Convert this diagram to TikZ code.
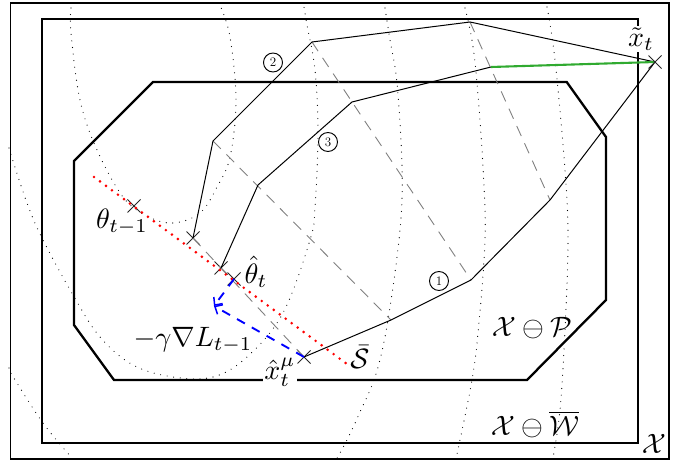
\documentclass[tikz,border=0pt]{standalone}
\usepackage{amsmath}
\usepackage{amssymb}
\usetikzlibrary{shapes.misc,arrows.meta}
\definecolor{gline}{RGB}{48,170,48}
\tikzset{
  frame/.style={draw=black,line width=1.9pt},
  feas/.style={draw=black,line width=2.3pt,line join=miter},
  contour/.style={draw=black,line width=1.15pt,line cap=round,dash pattern=on 0pt off 6.6pt},
  traj/.style={draw=black,line width=1pt},
  proj/.style={draw=black!50,line width=0.9pt,dash pattern=on 11pt off 8pt},
  xmark/.style={cross out,draw=black!85,line width=0.9pt,minimum size=13pt,inner sep=0pt,outer sep=0pt},
  redline/.style={draw=red,line width=2.9pt,line cap=round,dash pattern=on 0pt off 7.45pt},
  blueline/.style={draw=blue,line width=1.9pt,dash pattern=on 9pt off 8pt,-{Straight Barb[length=6pt,width=11pt,line width=1.5pt]}},
  greenline/.style={draw=gline,line width=2.1pt},
  lab/.style={scale=2.8,inner sep=0pt,outer sep=0pt,text=black},
  whitelab/.style={lab,fill=white,inner sep=0.4pt},
  num/.style={circle,draw=black,line width=0.95pt,minimum size=19pt,inner sep=0pt,font=\fontsize{13}{14}\selectfont}
}
\begin{document}
\begin{tikzpicture}[x=1pt,y=-1pt]
\useasboundingbox (0,0) rectangle (683,462);
% contours
\draw[contour] plot[smooth,tension=0.6] coordinates {(71,8) (71,33) (80,100) (97,150) (123,197) (147,216) (173,223) (200,213) (217,187) (230,157) (236,100) (230,37) (220,5)};
\draw[contour] plot[smooth,tension=0.6] coordinates {(9,148) (13,161) (27,203) (42,238) (73,295) (100,337) (133,365) (173,377) (213,377) (247,357) (283,313) (310,240) (315,207) (318,133) (315,70) (307,25) (304,7)};
\draw[contour] plot[smooth,tension=0.6] coordinates {(385,8) (390,40) (397,83) (402,167) (400,230) (388,320) (376,374) (360,412) (347,440) (336,460)};
\draw[contour] plot[smooth,tension=0.6] coordinates {(465,8) (472,40) (477,83) (483,167) (485,240) (478,333) (472,380) (460,440) (456,458)};
\draw[contour] plot[smooth,tension=0.6] coordinates {(547,7) (555,60) (565,170) (568,240) (565,330) (560,410) (553,458)};
\draw[contour] plot[smooth,tension=0.6] coordinates {(9,368) (12,375) (43,423) (72,458)};
% frames
\draw[frame] (10.5,3) rectangle (669,459);
\draw[frame] (42,19) rectangle (638,443);
\draw[feas] (153,82) -- (566.7,82) -- (606,137) -- (606,300) -- (527,380) -- (114,380) -- (74,325) -- (74,161) -- cycle;
% marks and corners
\node[xmark] (tm) at (134,206) {};
\node[xmark] (p2) at (193,238) {};
\node[xmark] (p3) at (221,268) {};
\node[xmark] (th) at (234,279) {};
\node[xmark] (xm) at (304,357) {};
\coordinate (xc) at (655,62);
\coordinate (a1) at (550,200);
\coordinate (a2) at (471,280);
\coordinate (a3) at (391,320);
\coordinate (b1) at (470,22);
\coordinate (b2) at (312,42);
\coordinate (b3) at (213,141);
\coordinate (c1) at (491,67);
\coordinate (c2) at (352,102);
\coordinate (c3) at (258,185);
\coordinate (rs) at (94,177);
\coordinate (re) at (351,367);
\coordinate (tip) at (214,306);
% projections
\draw[proj] (b1) -- (a1);
\draw[proj] (b2) -- (a2);
\draw[proj] (b3) -- (a3);
\draw[proj] (p2.center) -- (xm.center);
% trajectories
\draw[traj] (xc) -- (a1) -- (a2) -- (a3) -- (xm.center);
\draw[traj] (xc) -- (b1) -- (b2) -- (b3) -- (p2.center);
\draw[traj] (c1) -- (c2) -- (c3) -- (p3.center);
\draw[greenline] (c1) -- (xc);
\node[xmark] (xt) at (xc) {};
% constraint set and step
\draw[redline] (rs) -- (re);
\draw[blueline] (th.center) -- (tip);
\draw[blueline] (xm.center) -- (tip);
% labels
\node[lab] (l1) at (122,222) {$\theta_{t-1}$};
\node[lab] (l2) at (256,272) {$\hat\theta_t$};
\node[lab] (l3) at (193,340) {$-\gamma\nabla L_{t-1}$};
\node[whitelab] (l4) at (280,372) {$\hat x_t^{\mu}$};
\node[whitelab] (l5) at (641,39) {$\tilde x_t$};
\node[lab] (l6) at (360,357) {$\bar{\mathcal{S}}$};
\node[lab] (l7) at (532,328) {$\mathcal{X}\ominus\mathcal{P}$};
\node[lab] (l8) at (535,424) {$\mathcal{X}\ominus\overline{\mathcal{W}}$};
\node[lab] (l9) at (654,444) {$\mathcal{X}$};
\node[num] (n1) at (439,281) {1};
\node[num] (n2) at (273,62.5) {2};
\node[num] (n3) at (328,142) {3};
\end{tikzpicture}
\end{document}
